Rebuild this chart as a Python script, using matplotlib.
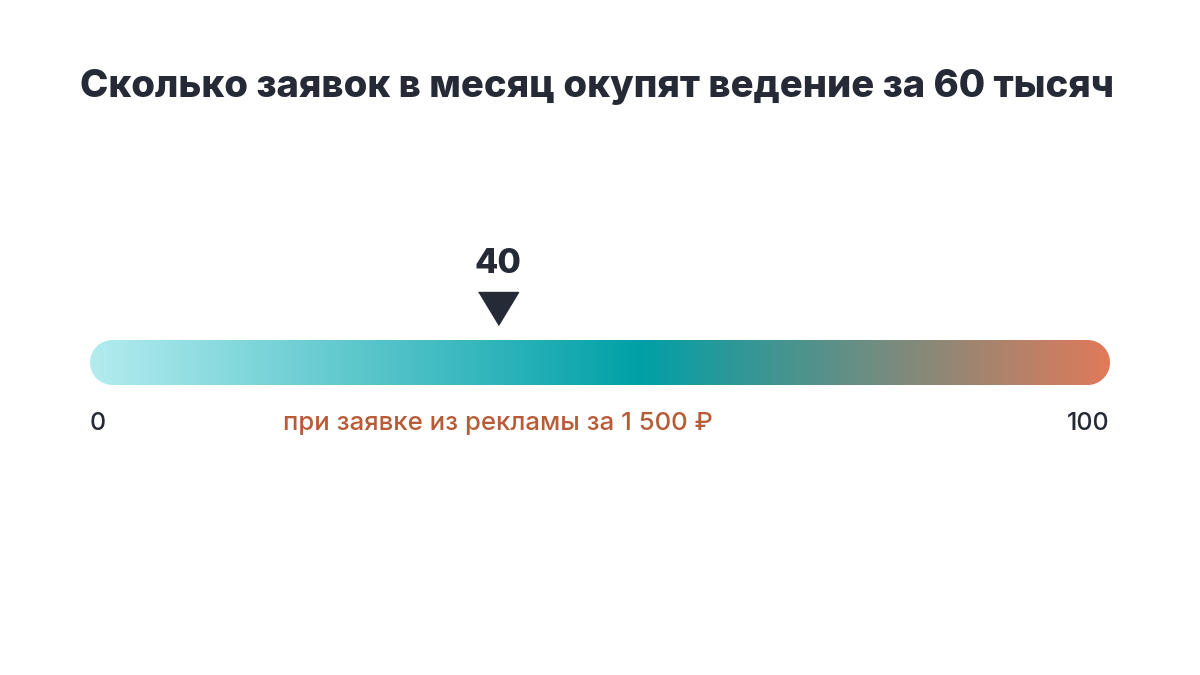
import matplotlib
matplotlib.use("Agg")
import matplotlib.pyplot as plt
import numpy as np
from matplotlib.colors import LinearSegmentedColormap
from matplotlib.patches import Polygon
from matplotlib.transforms import offset_copy

plt.rcParams["font.family"] = ["Inter", "DejaVu Sans"]

title = "Сколько заявок в месяц окупят ведение за 60 тысяч"
scale_min = 0
scale_max = 100
value = 40
caption = "при заявке из рекламы за 1 500 ₽"

grad_stops = [0.0, 0.54, 1.0]
grad_colors = ["#b3ecef", "#00a0a8", "#e07a5a"]

DARK = "#252a36"
CAPTION_COLOR = "#b85c38"

fig = plt.figure(figsize=(12, 6.75), dpi=100)
fig.patch.set_facecolor("white")

# bar axes: 1020 x 45 px, equal units in x and y
ax = fig.add_axes([90 / 1200, (675 - 385) / 675, 1020 / 1200, 45 / 675])
px_per_unit = 1020 / (scale_max - scale_min)
bar_h = 45 / px_per_unit
ax.set_xlim(scale_min, scale_max)
ax.set_ylim(0, bar_h)
ax.axis("off")

# pill outline: two half circles joined by straight edges
r = bar_h / 2
t_right = np.linspace(-np.pi / 2, np.pi / 2, 60)
t_left = np.linspace(np.pi / 2, 3 * np.pi / 2, 60)
xs = np.concatenate([scale_max - r + r * np.cos(t_right), scale_min + r + r * np.cos(t_left)])
ys = np.concatenate([r + r * np.sin(t_right), r + r * np.sin(t_left)])
pill = Polygon(np.column_stack([xs, ys]), closed=True, facecolor="none", edgecolor="none")
ax.add_patch(pill)

cmap = LinearSegmentedColormap.from_list("bar", list(zip(grad_stops, grad_colors)))
grad = np.linspace(0, 1, 512).reshape(1, -1)
img = ax.imshow(grad, cmap=cmap, extent=[scale_min, scale_max, 0, bar_h],
                aspect="auto", interpolation="bilinear")
img.set_clip_path(pill)

# marker
tri = [(-20, 16), (20, 16), (0, -17)]
mark_tr = offset_copy(ax.transData, fig=fig, x=0, y=22.7, units="points")
ax.plot([value], [bar_h], marker=tri, markersize=28.8, color=DARK,
        linestyle="none", transform=mark_tr, clip_on=False)

ax.annotate(str(value), xy=(value, bar_h), xytext=(0, 55), textcoords="offset points",
            ha="center", va="center", fontsize=24.5, fontweight="heavy",
            color=DARK, annotation_clip=False)

ax.annotate(str(scale_min), xy=(scale_min, 0), xytext=(0, -28), textcoords="offset points",
            ha="left", va="center", fontsize=18, fontweight="medium", color=DARK,
            annotation_clip=False)
ax.annotate(str(scale_max), xy=(scale_max, 0), xytext=(0, -28), textcoords="offset points",
            ha="right", va="center", fontsize=18, fontweight="medium", color=DARK,
            annotation_clip=False)
ax.annotate(caption, xy=(value, 0), xytext=(0, -28), textcoords="offset points",
            ha="center", va="center", fontsize=18.5, fontweight="medium",
            color=CAPTION_COLOR, annotation_clip=False)

fig.text(0.4975, 1 - 87 / 675, title, ha="center", va="center",
         fontsize=27.5, fontweight="heavy", color=DARK)

fig.savefig("out.png", dpi=100, facecolor="white")
